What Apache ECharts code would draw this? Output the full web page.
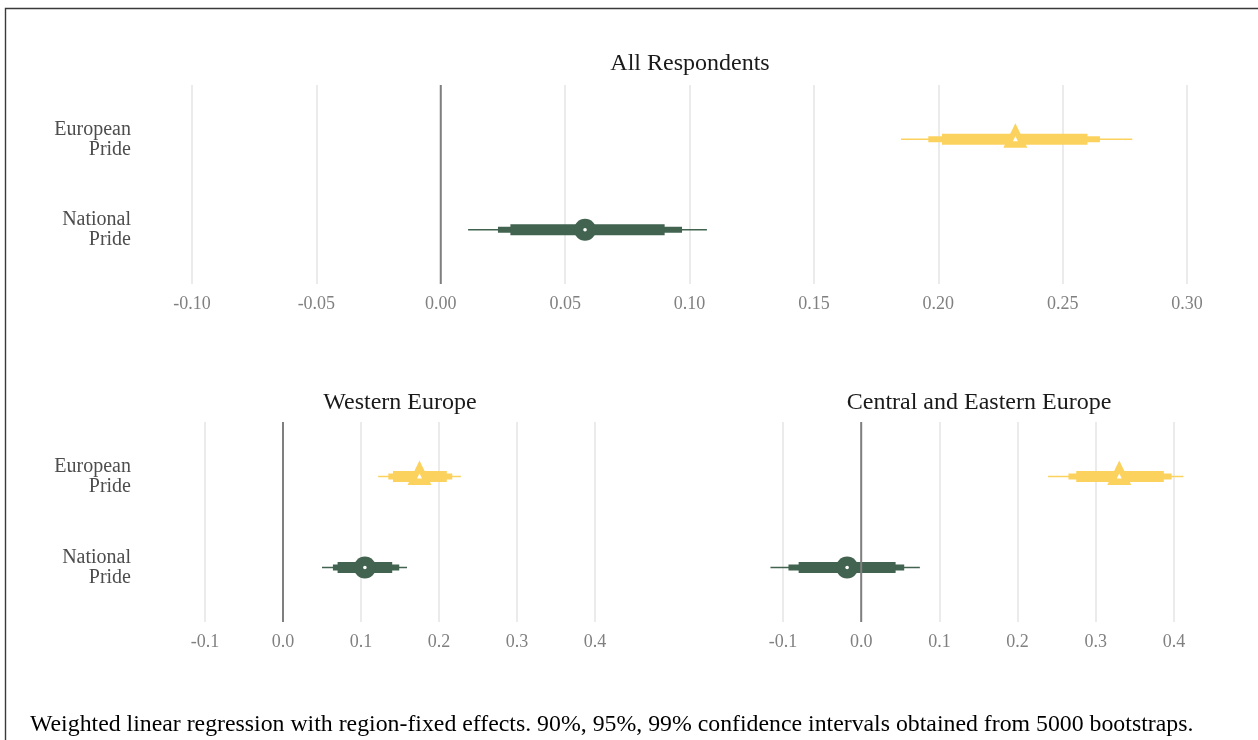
<!DOCTYPE html>
<html>
<head>
<meta charset="utf-8">
<script src="https://cdn.jsdelivr.net/npm/echarts@6/dist/echarts.min.js"></script>
<style>
  html, body { margin: 0; padding: 0; background: #ffffff; }
  #chart { width: 1258px; height: 740px; }
</style>
</head>
<body>
<div id="chart"></div>
<script>
// ---- Data ----
const rows = ['National\nPride', 'European\nPride'];

// All Respondents
const allEst  = [0.058, 0.231];
const allLo90 = [0.028, 0.2015];
const allHi90 = [0.090, 0.260];
const allLo95 = [0.023, 0.196];
const allHi95 = [0.097, 0.265];
const allLo99 = [0.011, 0.185];
const allHi99 = [0.107, 0.278];

// Western Europe
const westEst  = [0.105, 0.175];
const westLo90 = [0.070, 0.141];
const westHi90 = [0.140, 0.210];
const westLo95 = [0.064, 0.135];
const westHi95 = [0.149, 0.217];
const westLo99 = [0.050, 0.122];
const westHi99 = [0.159, 0.228];

// Central and Eastern Europe
const ceeEst  = [-0.018, 0.330];
const ceeLo90 = [-0.080, 0.275];
const ceeHi90 = [0.044, 0.387];
const ceeLo95 = [-0.093, 0.265];
const ceeHi95 = [0.055, 0.397];
const ceeLo99 = [-0.116, 0.239];
const ceeHi99 = [0.075, 0.412];

const panelTitles = ['All Respondents', 'Western Europe', 'Central and Eastern Europe'];
const caption = 'Weighted linear regression with region-fixed effects. 90%, 95%, 99% confidence intervals obtained from 5000 bootstraps.';

// ---- Styles ----
const FONT = 'Liberation Serif';
const rowColors = ['#41634F', '#FCD25E'];

function buildData(est, lo90, hi90, lo95, hi95, lo99, hi99) {
  return rows.map((r, i) => [i + 1, lo99[i], hi99[i], lo95[i], hi95[i], lo90[i], hi90[i], est[i]]);
}

function renderItem(params, api) {
  const y = api.value(0);
  const idx = Math.round(y) - 1;
  const color = rowColors[idx];
  const p = (v) => api.coord([v, y]);
  const a99 = p(api.value(1)), b99 = p(api.value(2));
  const a95 = p(api.value(3)), b95 = p(api.value(4));
  const a90 = p(api.value(5)), b90 = p(api.value(6));
  const c = p(api.value(7));
  const cy = c[1];
  const bar = (a, b, h) => ({
    type: 'rect',
    shape: { x: a[0], y: cy - h / 2, width: b[0] - a[0], height: h },
    style: { fill: color }
  });
  const children = [bar(a99, b99, 1.6), bar(a95, b95, 6), bar(a90, b90, 11)];
  if (idx === 0) {
    children.push({ type: 'circle', shape: { cx: c[0], cy: cy, r: 11 }, style: { fill: color } });
    children.push({ type: 'circle', shape: { cx: c[0], cy: cy, r: 1.8 }, style: { fill: '#ffffff' } });
  } else {
    children.push({ type: 'polygon', shape: { points: [[c[0], cy - 16], [c[0] - 12, cy + 8.5], [c[0] + 12, cy + 8.5]] }, style: { fill: color } });
    children.push({ type: 'polygon', shape: { points: [[c[0], cy - 3], [c[0] - 2.5, cy + 2], [c[0] + 2.5, cy + 2]] }, style: { fill: '#ffffff' } });
  }
  return { type: 'group', children: children };
}

const grids = [
  { left: 192, width: 995, top: 85, height: 199 },
  { left: 205, width: 390, top: 422, height: 200 },
  { left: 783, width: 391, top: 422, height: 200 }
];

function xAxisDef(gi, min, max, interval, dec) {
  return {
    gridIndex: gi, type: 'value', min: min, max: max, interval: interval,
    axisLine: { show: false }, axisTick: { show: false },
    splitLine: { show: true, lineStyle: { color: '#ebebeb', width: 2 } },
    axisLabel: {
      margin: 11, color: '#808080', fontSize: 18, fontFamily: FONT,
      formatter: (v) => v.toFixed(dec)
    }
  };
}

function yAxisDef(gi, showLabels, margin) {
  return {
    gridIndex: gi, type: 'value', min: 0.4, max: 2.6,
    axisLine: { show: false }, axisTick: { show: false }, splitLine: { show: false },
    axisLabel: {
      show: showLabels, customValues: [1, 2], margin: margin,
      color: '#4d4d4d', fontSize: 20, lineHeight: 20, fontFamily: FONT,
      formatter: (v) => rows[Math.round(v) - 1] || ''
    }
  };
}

function zeroLine(gi) {
  return {
    type: 'line', xAxisIndex: gi, yAxisIndex: gi, symbol: 'none', silent: true, z: 5,
    data: [[0, 0.4], [0, 2.6]],
    lineStyle: { color: '#7f7f7f', width: 2 }
  };
}

function marks(gi, data) {
  return {
    type: 'custom', xAxisIndex: gi, yAxisIndex: gi, renderItem: renderItem, clip: false, z: 3,
    encode: { x: [1, 2, 3, 4, 5, 6, 7], y: 0 },
    data: data
  };
}

const titleStyle = { fontFamily: FONT, fontSize: 24, fontWeight: 'normal', color: '#1a1a1a' };

const chart = echarts.init(document.getElementById('chart'), null, { renderer: 'canvas' });
chart.setOption({
  backgroundColor: '#ffffff',
  animation: false,
  title: [
    { text: panelTitles[0], left: 690, top: 52, textAlign: 'center', padding: 0, textStyle: titleStyle },
    { text: panelTitles[1], left: 400, top: 391, textAlign: 'center', padding: 0, textStyle: titleStyle },
    { text: panelTitles[2], left: 979, top: 391, textAlign: 'center', padding: 0, textStyle: titleStyle }
  ],
  graphic: [
    { type: 'rect', shape: { x: 5.5, y: 8.5, width: 1400, height: 900 },
      style: { fill: 'none', stroke: '#3a3a3a', lineWidth: 1.4 }, silent: true },
    { type: 'text', left: 30, top: 713,
      style: { text: caption, fontFamily: FONT, fontSize: 23.8, fill: '#000000' } }
  ],
  grid: grids,
  xAxis: [
    xAxisDef(0, -0.1, 0.3, 0.05, 2),
    xAxisDef(1, -0.1, 0.4, 0.1, 1),
    xAxisDef(2, -0.1, 0.4, 0.1, 1)
  ],
  yAxis: [
    yAxisDef(0, true, 61),
    yAxisDef(1, true, 74),
    yAxisDef(2, false, 10)
  ],
  series: [
    marks(0, buildData(allEst, allLo90, allHi90, allLo95, allHi95, allLo99, allHi99)),
    marks(1, buildData(westEst, westLo90, westHi90, westLo95, westHi95, westLo99, westHi99)),
    marks(2, buildData(ceeEst, ceeLo90, ceeHi90, ceeLo95, ceeHi95, ceeLo99, ceeHi99)),
    zeroLine(0), zeroLine(1), zeroLine(2)
  ]
});
</script>
</body>
</html>
